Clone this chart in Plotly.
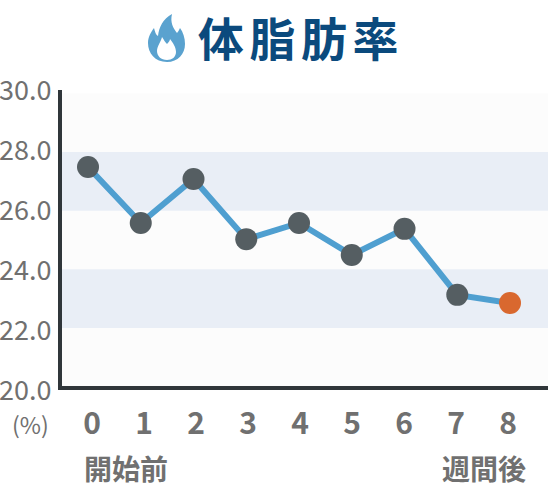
import plotly.graph_objects as go

weeks = [0, 1, 2, 3, 4, 5, 6, 7, 8]
body_fat = [27.49, 25.58, 27.08, 25.03, 25.58, 24.49, 25.38, 23.13, 22.85]
y_ticks = [30, 28, 26, 24, 22, 20]
y_labels = ["30.0", "28.0", "26.0", "24.0", "22.0", "20.0"]
bands_light = [(28, 30), (24, 26), (20, 22)]
bands_blue = [(26, 28), (22, 24)]
title = "体脂肪率"
start_label = "開始前"
end_label = "週間後"
unit_label = "(%)"

W, H = 548, 488
LEFT, RIGHT, TOP, BOTTOM = 62, 548, 90, 386
JP = "Noto Sans CJK JP"
GRAY = "#707070"

def px(x):
    return (x - LEFT) / (RIGHT - LEFT)

def py(y):
    return (BOTTOM - y) / (BOTTOM - TOP)

def path(points):
    out = []
    for p in points:
        cmd = p[0]
        coords = p[1:]
        parts = [f"{px(coords[i])},{py(coords[i+1])}" for i in range(0, len(coords), 2)]
        out.append(cmd + " ".join(parts))
    return " ".join(out) + " Z"

flame_outer = [
    ("M", 167, 62),
    ("C", 155, 62, 148, 53, 148, 43),
    ("C", 148, 37, 151, 32, 154, 28),
    ("C", 155, 32, 156, 35, 158, 36),
    ("C", 159, 27, 163, 19, 172, 14),
    ("C", 170, 22, 173, 28, 177, 33),
    ("C", 178, 32, 179, 30, 180, 28),
    ("C", 183, 32, 185, 38, 185, 44),
    ("C", 185, 54, 178, 62, 167, 62),
]
flame_inner = [
    ("M", 167, 60),
    ("C", 161, 60, 157, 56, 157, 51),
    ("C", 157, 46, 161, 42, 162, 37),
    ("C", 164, 40, 165, 42, 167, 44),
    ("C", 169, 42, 170, 40, 170, 39),
    ("C", 173, 43, 176, 47, 176, 52),
    ("C", 176, 57, 172, 60, 167, 60),
]

fig = go.Figure()

shapes = []
for lo, hi in bands_light:
    shapes.append(dict(type="rect", xref="paper", yref="y", x0=0, x1=1, y0=lo, y1=hi,
                       fillcolor="#FCFCFC", line_width=0, layer="below"))
for lo, hi in bands_blue:
    shapes.append(dict(type="rect", xref="paper", yref="y", x0=0, x1=1, y0=lo, y1=hi,
                       fillcolor="#E9EEF6", line_width=0, layer="below"))
shapes.append(dict(type="path", xref="paper", yref="paper", path=path(flame_outer),
                   fillcolor="#5AA2CF", line_width=0))
shapes.append(dict(type="path", xref="paper", yref="paper", path=path(flame_inner),
                   fillcolor="#FFFFFF", line_width=0))

fig.add_trace(go.Scatter(
    x=weeks, y=body_fat, mode="lines",
    line=dict(color="#4F9FD0", width=6), showlegend=False, hoverinfo="skip",
))
fig.add_trace(go.Scatter(
    x=weeks[:-1], y=body_fat[:-1], mode="markers",
    marker=dict(color="#555E62", size=22), showlegend=False,
))
fig.add_trace(go.Scatter(
    x=weeks[-1:], y=body_fat[-1:], mode="markers",
    marker=dict(color="#D9682F", size=22), showlegend=False,
))
# Carries the week labels, which sit on a slightly tighter spacing than the points.
fig.add_trace(go.Scatter(
    x=weeks, y=[None] * len(weeks), xaxis="x2", mode="markers",
    showlegend=False, hoverinfo="skip",
))

annotations = [
    dict(text=f"<b>{title}</b>", xref="paper", yref="paper", x=px(301), y=py(36),
         showarrow=False, xanchor="center", yanchor="middle",
         font=dict(family=JP, size=46, color="#0B4A7D")),
    dict(text=unit_label, xref="paper", yref="paper", x=px(30), y=py(424),
         showarrow=False, xanchor="center", yanchor="middle",
         font=dict(family=JP, size=23, color=GRAY)),
    dict(text=f"<b>{start_label}</b>", xref="paper", yref="paper", x=px(126), y=py(468),
         showarrow=False, xanchor="center", yanchor="middle",
         font=dict(family=JP, size=28, color=GRAY)),
    dict(text=f"<b>{end_label}</b>", xref="paper", yref="paper", x=px(484), y=py(468),
         showarrow=False, xanchor="center", yanchor="middle",
         font=dict(family=JP, size=28, color=GRAY)),
]
for tick, label in zip(y_ticks, y_labels):
    annotations.append(dict(
        text=label, xref="paper", yref="paper", x=px(53),
        y=py(388.5 - (tick - 20) * 30), showarrow=False, xanchor="right", yanchor="middle",
        font=dict(family=JP, size=27, color=GRAY),
    ))

fig.update_layout(
    width=W, height=H, autosize=False,
    margin=dict(l=LEFT, r=0, t=TOP, b=H - BOTTOM, pad=0),
    paper_bgcolor="#FFFFFF", plot_bgcolor="#FFFFFF",
    showlegend=False, shapes=shapes, annotations=annotations,
    xaxis=dict(
        range=[-0.493, 8.72], showticklabels=False, ticks="",
        showgrid=False, zeroline=False, showline=True, linecolor="#30363A", linewidth=4,
    ),
    xaxis2=dict(
        overlaying="x", side="bottom", anchor="y",
        range=[-0.577, 8.769], tickmode="array", tickvals=weeks,
        ticktext=[f"<b>{w}</b>" for w in weeks],
        tickfont=dict(family=JP, size=30, color=GRAY), ticks="",
        showgrid=False, zeroline=False, showline=False,
        ticklabelstandoff=17,
    ),
    yaxis=dict(
        range=[20.023, 30.114], showticklabels=False, ticks="",
        showgrid=False, zeroline=False, showline=True, linecolor="#30363A", linewidth=4,
    ),
)

post = """
document.documentElement.style.margin='0';
document.body.style.margin='0';
document.body.style.overflow='hidden';
document.querySelectorAll('.annotation-text').forEach(function(t){
  if (t.textContent === '%s') { t.style.letterSpacing = '5.6px'; }
});
""" % title

fig.write_html("out.html", config=dict(displayModeBar=False), post_script=post)
